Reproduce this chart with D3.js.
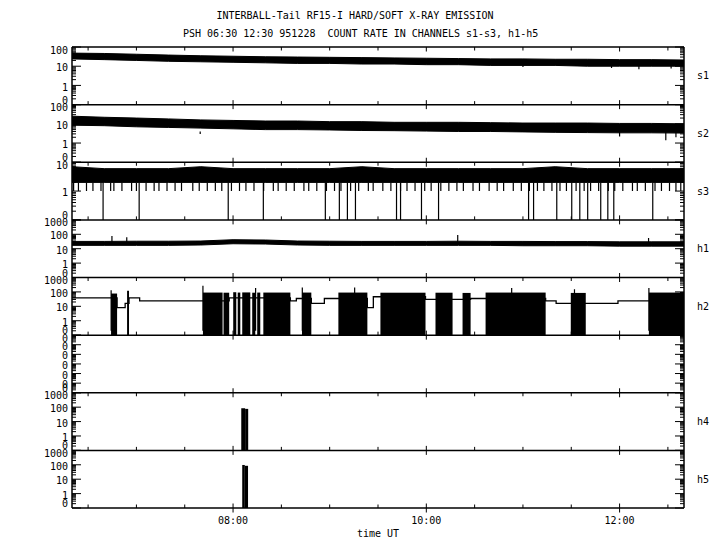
<!DOCTYPE html>
<html><head><meta charset="utf-8">
<script src="https://cdn.jsdelivr.net/npm/d3@7"></script>
<style>body{margin:0;background:#fff}svg text{font-family:"DejaVu Sans Mono",monospace;font-size:10px;fill:#000;white-space:pre}</style>
</head><body><svg id="c" width="720" height="550"></svg>
<script>
// ---------------- data (times in minutes after 06:00 UT) ----------------
const titleLine1 = "INTERBALL-Tail RF15-I HARD/SOFT X-RAY EMISSION";
const titleLine2 = "PSH 06:30 12:30 951228  COUNT RATE IN CHANNELS s1-s3, h1-h5";
const channels = ["s1","s2","s3","h1","h2","h3","h4","h5"];
const rightLabels = ["s1","s2","s3","h1","h2","","h4","h5"];
const yMin = [0.1,0.1,0.1,0.1,0.1,1e-7,0.1,0.1];
const yMax = [100,100,10,1000,1000,0.1,1000,1000];
const timeDomain = [20,400];
const xTickMinutes = [30,60,90,120,150,180,210,240,270,300,330,360,390];
const xMajorMinutes = [120,240,360];
const xTickLabels = ["08:00","10:00","12:00"];
const xAxisTitle = "time UT";

const bandMinutes = [20,40,60,80,100,120,140,160,180,200,220,240,260,280,300,320,340,360,380,400];
const s1High = [48,46,42,38,35,33,31,30,29,28,27,26,25,24,24,23,23,22,22,21];
const s1Low  = [24,22,20,18,17,16,15,14,14,13,13,12,12,11,11,11,10,10,10,10];
const s1Spikes = [[150,14],[300,9],[355,8],[372,7],[392,7.5]];
const s2High = [25,22,20,18,16,15,14,14,13,13,12,12,12,11.5,11,11,11,10.5,10.5,10];
const s2Low  = [8.5,8,7,6.5,6,5.5,5,5,4.8,4.5,4.4,4.2,4,4,3.8,3.6,3.5,3.4,3.4,3.3];
const s2Spikes = [[99.6,3],[360,2.2],[388.7,1.4],[395,2]];
const s3High = [7,6,6,6,7,6,6,6,6,7,6,6,6,6,6,7,6,6,6,6];
const s3Low  = [2,2,2,2,2,2,2,2,2,2,2,2,2,2,2,2,2,2,2,2];
const s3DropsToOne = [21,24,29,33,38,44,46,51,57,60,66,71,74,79,84,88,95,99,104,109,113,119,124,128,133,139,145,148,153,158,164,167,172,178,183,187,193,198,204,207,213,218,224,228,233,239,243,249,254,259,263,269,273,279,284,288,294,299,304,309,313,318,323,327,333,338,342,347,353,357,362,368,371,376,382,386,391,395,398];
const s3DropsToZero = [39.3,61.7,117,138.8,177.3,186,191,196,221.5,224,237,247.6,303.5,306.6,321,330.3,335.3,340.2,348.3,352.7,356.4,380.6];
const h1High = [32,32,33,33,34,42,40,34,33,32,32,32,33,32,32,31,31,30,30,30];
const h1Low  = [17,17,17,17,18,22,21,18,17,17,17,17,17,17,16,16,16,15,15,15];
const h1Spikes = [[44.8,76],[54,62],[259.5,90],[378,55]];
const h2StepMinutes = [20,48,53,55.4,62,117.6,155.6,159.3,168.6,176.7,203.4,207.1,239.5,267.5,314.1,320.6,359,400];
const h2StepLevels  = [39,8,16,39,24,39,24,35,16,35,8,46,30,35,24,16,24,24];
const h2Bursts = [[44.25,48,77],[54.2,55.4,120],[101.3,113.5,90],[114.1,117.6,88],[120.1,122,95],[122.9,124.5,90],[125.7,130.7,92],[131.9,133.8,88],[135,136.9,90],[138.8,155.6,90],[162.8,168.6,90],[185.4,203.4,90],[211.5,239.5,88],[245.7,256.3,88],[262.5,267.5,85],[276.8,314.1,90],[329.7,339,85],[378.2,400,90]];
const h2Spikes = [[44.3,130],[101.3,265],[134,190],[163,200],[195.5,200],[293,190],[332,150],[378.2,190]];
const h4Bursts = [[125.1,127.5,84],[127.5,129.4,76]];
const h5Bursts = [[125.7,127.3,97],[127.3,129.3,85]];

// ---------------- layout ----------------
const L = 72, R = 684, T = 47, B = 508;
const ph = (B - T) / channels.length;
const svg = d3.select("#c");
const x = d3.scaleLinear().domain(timeDomain).range([L, R]);

svg.append("text").attr("x", 216.5).attr("y", 19).text(titleLine1);
svg.append("text").attr("x", 183).attr("y", 37).attr("xml:space", "preserve").text(titleLine2);

const ys = [];
const defs = svg.append("defs");
channels.forEach((ch, i) => {
  const top = T + i * ph, bot = T + (i + 1) * ph;
  const y = d3.scaleLog().domain([yMin[i], yMax[i]]).range([bot, top]).clamp(true);
  ys.push(y);
  defs.append("clipPath").attr("id", "cp" + i).append("rect")
    .attr("x", L).attr("y", top).attr("width", R - L).attr("height", ph);
  const g = svg.append("g");
  // y ticks
  const e0 = Math.round(Math.log10(yMin[i])), e1 = Math.round(Math.log10(yMax[i]));
  const major = [], minor = [];
  for (let e = e0; e <= e1; e++) {
    const d = Math.pow(10, e);
    major.push(d);
    if (e < e1) for (let k = 2; k <= 9; k++) minor.push(d * k);
  }
  const tk = (v, len) => {
    g.append("line").attr("x1", L).attr("x2", L + len).attr("y1", y(v)).attr("y2", y(v))
      .attr("stroke", "#000").attr("stroke-width", 1);
    g.append("line").attr("x1", R).attr("x2", R - len).attr("y1", y(v)).attr("y2", y(v))
      .attr("stroke", "#000").attr("stroke-width", 1);
  };
  minor.forEach(v => tk(v, 4));
  major.forEach(v => tk(v, 9));
  major.forEach(v => {
    const cy = Math.max(top + 3, Math.min(bot - 4.6, y(v) + 1.5));
    g.append("text").attr("x", 68).attr("y", cy + 3.6).attr("text-anchor", "end")
      .text(v >= 1 ? String(Math.round(v)) : "0");
  });
  // x ticks
  const minorTicks = (i % 2 === 0);
  xTickMinutes.forEach(m => {
    const isMaj = xMajorMinutes.includes(m);
    if (isMaj) {
      g.append("line").attr("x1", x(m)).attr("x2", x(m)).attr("y1", top).attr("y2", top + 4.5).attr("stroke", "#000");
      g.append("line").attr("x1", x(m)).attr("x2", x(m)).attr("y1", bot).attr("y2", bot - 4.5).attr("stroke", "#000");
    } else if (minorTicks || i === channels.length - 1) {
      if (minorTicks) g.append("line").attr("x1", x(m)).attr("x2", x(m)).attr("y1", top).attr("y2", top + 3.5).attr("stroke", "#000");
      g.append("line").attr("x1", x(m)).attr("x2", x(m)).attr("y1", bot).attr("y2", bot - 3.5).attr("stroke", "#000");
    }
  });
  if (rightLabels[i]) svg.append("text").attr("x", 697).attr("y", (top + bot) / 2 + 3.6).text(rightLabels[i]);
});
// x axis labels and outward major ticks at the bottom
xMajorMinutes.forEach((m, j) => {
  svg.append("line").attr("x1", x(m)).attr("x2", x(m)).attr("y1", B).attr("y2", B + 4.5).attr("stroke", "#000");
  svg.append("text").attr("x", x(m)).attr("y", 523.5).attr("text-anchor", "middle").text(xTickLabels[j]);
});
svg.append("text").attr("x", (L + R) / 2).attr("y", 537).attr("text-anchor", "middle").text(xAxisTitle);

// ---------------- data marks ----------------
const pg = i => svg.append("g").attr("clip-path", "url(#cp" + i + ")");
function band(i, hi, lo) {
  const y = ys[i];
  pg(i).append("path").datum(bandMinutes.map((m, k) => [m, hi[k], lo[k]]))
    .attr("d", d3.area().x(d => x(d[0])).y0(d => y(d[2])).y1(d => y(d[1])))
    .attr("fill", "#000").attr("stroke", "#000").attr("stroke-width", 1);
}
function vlines(i, arr, base) {
  const y = ys[i], g = pg(i);
  arr.forEach(d => {
    g.append("line").attr("x1", x(d[0])).attr("x2", x(d[0]))
      .attr("y1", y(base)).attr("y2", d[1] > 0 ? y(d[1]) : y.range()[0])
      .attr("stroke", "#000").attr("stroke-width", 1.2);
  });
}
function bursts(i, arr) {
  const y = ys[i], g = pg(i), bot = y.range()[0];
  arr.forEach(d => {
    g.append("rect").attr("x", x(d[0])).attr("width", Math.max(1.5, x(d[1]) - x(d[0])))
      .attr("y", y(d[2])).attr("height", bot - y(d[2])).attr("fill", "#000");
  });
}
band(0, s1High, s1Low);
vlines(0, s1Spikes, 14);
band(1, s2High, s2Low);
vlines(1, s2Spikes, 4);
band(2, s3High, s3Low);
vlines(2, s3DropsToOne.map(m => [m, 1]), 2);
vlines(2, s3DropsToZero.map(m => [m, 0]), 2);
band(3, h1High, h1Low);
vlines(3, h1Spikes, 25);
pg(4).append("path").datum(h2StepMinutes.map((m, k) => [m, h2StepLevels[k]]))
  .attr("d", d3.line().curve(d3.curveStepAfter).x(d => x(d[0])).y(d => ys[4](d[1])))
  .attr("fill", "none").attr("stroke", "#000").attr("stroke-width", 1.3);
bursts(4, h2Bursts);
vlines(4, h2Spikes, 0.2);
bursts(6, h4Bursts);
bursts(7, h5Bursts);

// ---------------- frame ----------------
const fr = svg.append("g").attr("stroke", "#000").attr("stroke-width", 1.5);
fr.append("line").attr("x1", L).attr("x2", L).attr("y1", T).attr("y2", B);
fr.append("line").attr("x1", R).attr("x2", R).attr("y1", T).attr("y2", B);
for (let i = 0; i <= channels.length; i++) {
  fr.append("line").attr("x1", L).attr("x2", R).attr("y1", T + i * ph).attr("y2", T + i * ph);
}
</script></body></html>
